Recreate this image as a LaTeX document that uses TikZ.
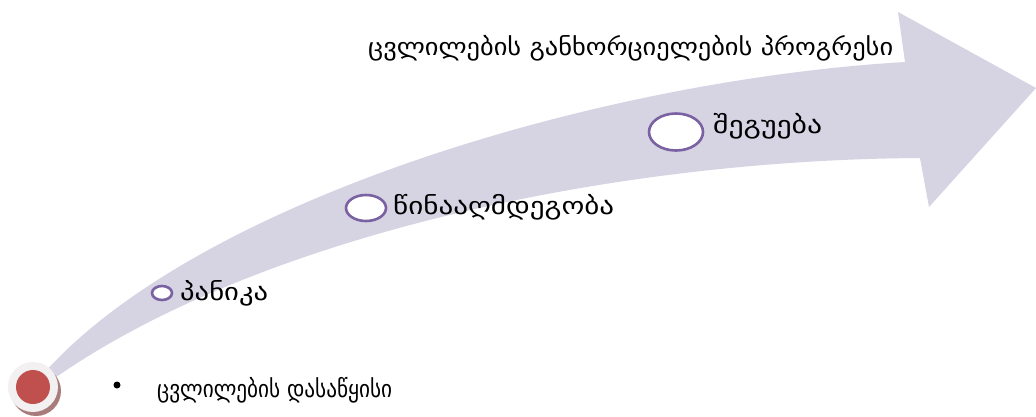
\documentclass[tikz,border=0pt]{standalone}
\usepackage{fontspec}
\usepackage{graphicx}
\usetikzlibrary{shapes.geometric}
\newfontfamily\geo{DejaVu Sans}
\definecolor{bandcol}{HTML}{D6D3E3}
\definecolor{ringcol}{HTML}{7A62A2}
\definecolor{startred}{HTML}{C0504D}
\definecolor{ringgray}{HTML}{F2F0F0}
\definecolor{shadowcol}{HTML}{A97C7C}
\newcommand{\fitw}[2]{\resizebox{#1}{\height}{#2}}
\tikzset{
  band/.style={fill=bandcol, draw=none},
  stage/.style={ellipse, draw=ringcol, fill=white, line width=2.6pt, inner sep=0pt},
  lbl/.style={anchor=base west, inner sep=0pt, font=\geo\fontsize{24}{28}\selectfont, text=black},
}
\begin{document}
\begin{tikzpicture}[x=1pt,y=-1pt]
\useasboundingbox[fill=white] (0,0) rectangle (1036,416);
% curved arrow band
\fill[band] (45,372) .. controls (200,200) and (600,80) .. (905,62)
  -- (898,12) -- (1036,88) -- (929,207) -- (920,158)
  .. controls (600,160) and (250,240) .. (52,380) -- cycle;
% start marker
\fill[shadowcol] (36,391) circle (25);
\node[circle, fill=ringgray, minimum size=50pt, inner sep=0pt] (ring) at (33,387) {};
\node[circle, fill=startred, minimum size=34pt, inner sep=0pt] (start) at (33,387) {};
\node[circle, fill=black, minimum size=7pt, inner sep=0pt] (bullet) at (117,385) {};
\node[lbl] (tstart) at (157,397) {\fitw{235pt}{ცვლილების დასაწყისი}};
% stages
\node[stage, minimum width=20pt, minimum height=14pt] (c1) at (162,293) {};
\node[lbl] (t1) at (180,300) {\fitw{88pt}{პანიკა}};
\node[stage, minimum width=40pt, minimum height=26pt] (c2) at (366,208) {};
\node[lbl] (t2) at (393,214) {\fitw{221pt}{წინააღმდეგობა}};
\node[stage, minimum width=54pt, minimum height=37pt] (c3) at (676,132) {};
\node[lbl] (t3) at (713,133) {\fitw{109pt}{შეგუება}};
% title
\node[lbl] (title) at (368,55) {\fitw{525pt}{ცვლილების განხორციელების პროგრესი}};
\end{tikzpicture}
\end{document}
